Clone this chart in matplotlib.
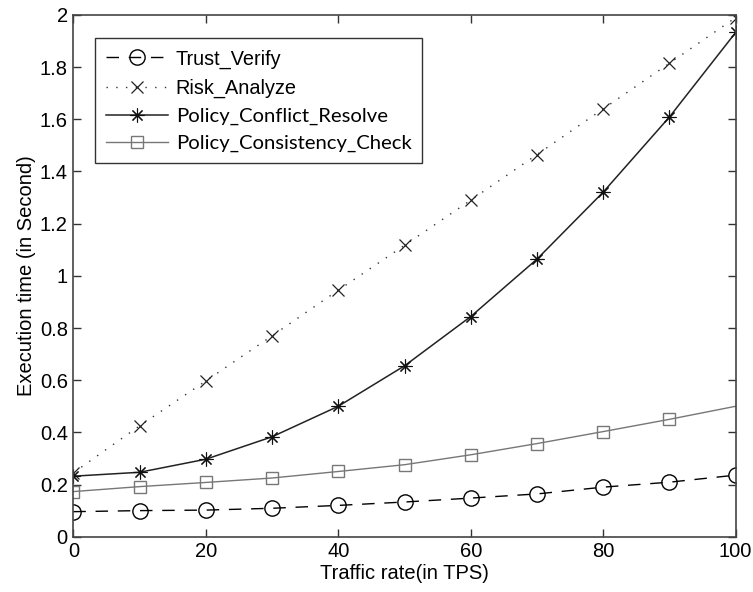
import matplotlib
matplotlib.use("Agg")
import matplotlib.pyplot as plt

traffic = [0, 10, 20, 30, 40, 50, 60, 70, 80, 90, 100]
trust_verify = [0.096, 0.100, 0.102, 0.109, 0.120, 0.133, 0.148, 0.164, 0.190, 0.209, 0.236]
risk_analyze = [0.245, 0.425, 0.597, 0.770, 0.945, 1.117, 1.290, 1.465, 1.640, 1.815, 1.990]
conflict_resolve = [0.232, 0.247, 0.297, 0.383, 0.500, 0.655, 0.844, 1.064, 1.321, 1.609, 1.933]
consistency_check = [0.173, 0.192, 0.208, 0.225, 0.250, 0.276, 0.314, 0.357, 0.403, 0.450, 0.500]

labels = ["Trust_Verify", "Risk_Analyze", "Policy_Conflict_Resolve", "Policy_Consistency_Check"]

plt.rcParams['font.family'] = ['Liberation Sans', 'DejaVu Sans']

fig = plt.figure(figsize=(7.53, 5.92), dpi=100)
ax = fig.add_axes([0.0974, 0.0934, 0.8796, 0.8813])

ax.plot(traffic, trust_verify, color='black', lw=1.0, linestyle=(0, (9, 7)),
        marker='o', markersize=11, markerfacecolor='none', markeredgecolor='black',
        markeredgewidth=1.0, label=labels[0])
ax.plot(traffic, risk_analyze, color='#333333', lw=1.0, linestyle=(0, (1, 6)),
        marker='x', markersize=8, markeredgewidth=0.9, markeredgecolor='#222222',
        label=labels[1])
ax.plot(traffic, conflict_resolve, color='#222222', lw=1.1, linestyle='-',
        marker=(8, 2, 0), markersize=10, markeredgewidth=0.8, markeredgecolor='#111111',
        label=labels[2])
ax.plot(traffic, consistency_check, color='#777777', lw=1.0, linestyle='-',
        marker='s', markersize=9, markerfacecolor='none', markeredgecolor='#777777',
        markeredgewidth=1.0, markevery=slice(0, 10), label=labels[3])

ax.set_xlim(0, 100)
ax.set_ylim(0, 2)
ax.set_xticks([0, 20, 40, 60, 80, 100])
ax.set_yticks([0, 0.2, 0.4, 0.6, 0.8, 1, 1.2, 1.4, 1.6, 1.8, 2])
ax.set_yticklabels(['0', '0.2', '0.4', '0.6', '0.8', '1', '1.2', '1.4', '1.6', '1.8', '2'])
ax.tick_params(direction='in', top=True, right=True, length=6, width=1.0,
               labelsize=14.5, colors='#333333', labelcolor='black', pad=4)
for s in ax.spines.values():
    s.set_color('#444444')
    s.set_linewidth(1.2)

ax.set_xlabel('Traffic rate(in TPS)', fontsize=14.5, labelpad=2)
ax.set_ylabel('Execution time (in Second)', fontsize=14.5, labelpad=3)

leg = ax.legend(loc='upper left', bbox_to_anchor=(0.033, 0.955), borderaxespad=0,
                fontsize=14.3, handlelength=3.1, frameon=True, fancybox=False,
                edgecolor='#333333', framealpha=1, labelspacing=0.5,
                borderpad=0.55, handletextpad=0.4)
leg.get_frame().set_linewidth(1.0)
for t in leg.get_texts()[2:]:
    t.set_family(['Lato', 'DejaVu Sans'])
    t.set_fontsize(14.6)

fig.savefig('out.png', dpi=100, facecolor='white')
